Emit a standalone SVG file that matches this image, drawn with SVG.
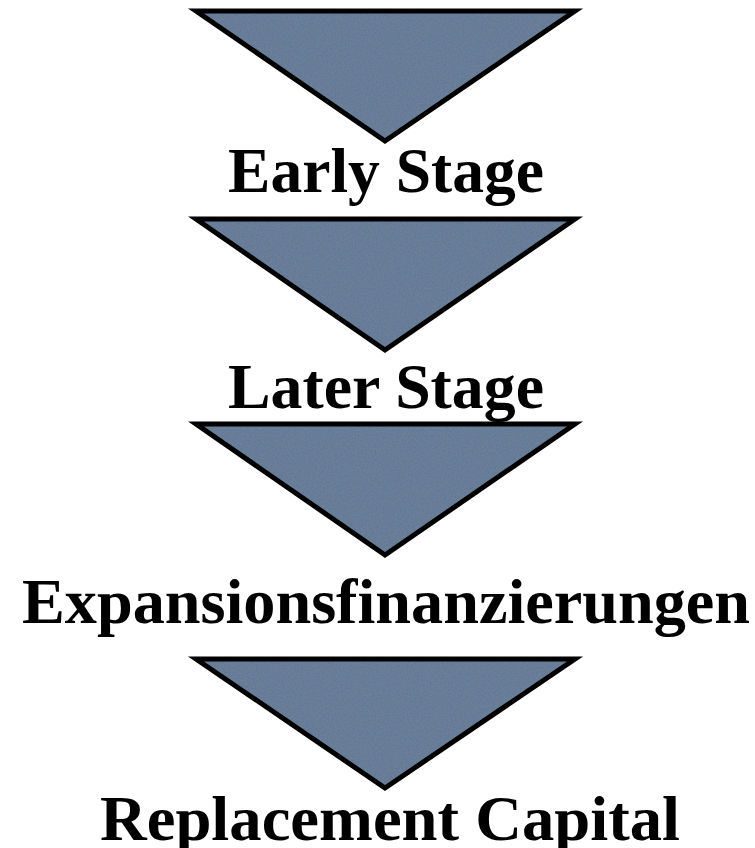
<svg xmlns="http://www.w3.org/2000/svg" width="755" height="848" viewBox="0 0 755 848">
  <style>
    .fill { fill: #5d7493; filter: url(#grain); }
    .edge { fill: none; stroke: #000; stroke-width: 5; stroke-linejoin: miter; }
    .lbl { font-family: "Liberation Serif", "Times New Roman", serif; font-weight: bold; font-size: 63px; fill: #000; text-anchor: middle; }
  </style>
  <defs>
    <!-- faint paper grain on the triangle faces -->
    <filter id="grain" x="0" y="0" width="1" height="1">
      <feTurbulence type="fractalNoise" baseFrequency="0.6" numOctaves="2" seed="3" result="n"/>
      <feColorMatrix in="n" type="matrix" values="0 0 0 0 0.5  0 0 0 0 0.55  0 0 0 0 0.6  0 0 0 0.15 0" result="g"/>
      <feComposite in="g" in2="SourceGraphic" operator="in" result="gi"/>
      <feMerge><feMergeNode in="SourceGraphic"/><feMergeNode in="gi"/></feMerge>
    </filter>
  </defs>

  <g id="stage-early">
    <polygon class="fill" points="196,11 575,11 385,141"/>
    <polygon class="edge" points="196,11 575,11 385,141"/>
    <text class="lbl" x="386" y="192" textLength="316" lengthAdjust="spacingAndGlyphs">Early Stage</text>
  </g>

  <g id="stage-later">
    <polygon class="fill" points="196,219 575,219 385,350"/>
    <polygon class="edge" points="196,219 575,219 385,350"/>
    <text class="lbl" x="386" y="408" textLength="316" lengthAdjust="spacingAndGlyphs">Later Stage</text>
  </g>

  <g id="stage-expansion">
    <polygon class="fill" points="196,424 575,424 385,555"/>
    <polygon class="edge" points="196,424 575,424 385,555"/>
    <text class="lbl" x="386" y="623" font-size="68" textLength="728" lengthAdjust="spacingAndGlyphs">Expansionsfinanzierungen</text>
  </g>

  <g id="stage-replacement">
    <polygon class="fill" points="196,659 575,659 385,788"/>
    <polygon class="edge" points="196,659 575,659 385,788"/>
    <text class="lbl" x="390" y="840" font-size="69" textLength="580" lengthAdjust="spacingAndGlyphs">Replacement Capital</text>
  </g>

  <g id="connectors"></g>
</svg>
